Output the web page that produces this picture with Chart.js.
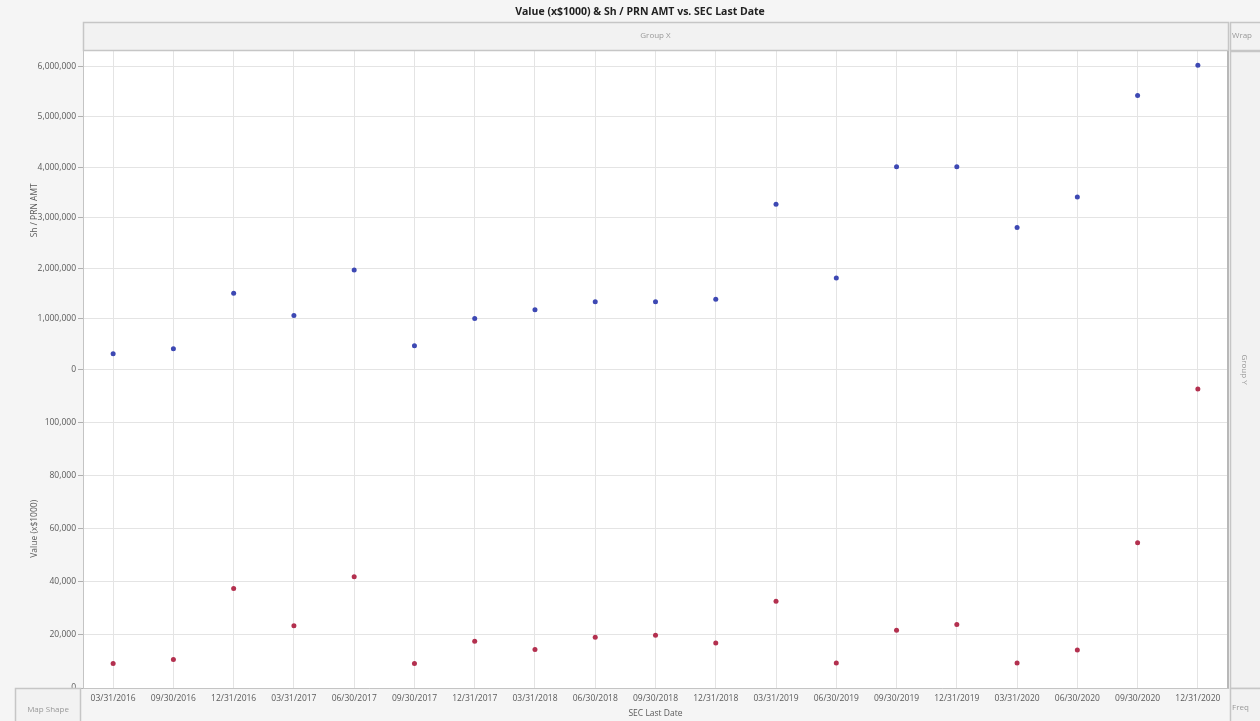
<!DOCTYPE html>
<html>
<head>
<meta charset="utf-8">
<script src="https://cdn.jsdelivr.net/npm/chart.js@4"></script>
<style>
  html, body { margin: 0; padding: 0; background: #f5f5f5; }
  #wrap { width: 1260px; height: 721px; position: relative; }
</style>
</head>
<body>
<div id="wrap"><canvas id="chart" width="1260" height="721"></canvas></div>
<script>
const dates = [
  "03/31/2016", "09/30/2016", "12/31/2016", "03/31/2017", "06/30/2017",
  "09/30/2017", "12/31/2017", "03/31/2018", "06/30/2018", "09/30/2018",
  "12/31/2018", "03/31/2019", "06/30/2019", "09/30/2019", "12/31/2019",
  "03/31/2020", "06/30/2020", "09/30/2020", "12/31/2020"
];
// Sh / PRN AMT (top panel)
const shares = [
  310000, 410000, 1510000, 1070000, 1970000,
  470000, 1010000, 1180000, 1340000, 1340000,
  1390000, 3270000, 1810000, 4010000, 4010000,
  2810000, 3410000, 5420000, 6020000
];
// Value (x$1000) (bottom panel)
const values = [
  9200, 10700, 37500, 23500, 41900,
  9200, 17600, 14500, 19100, 19900,
  17000, 32700, 9400, 21800, 23900,
  9400, 14300, 54700, 112700
];
const shareTicks = [0, 1000000, 2000000, 3000000, 4000000, 5000000, 6000000];
const valueTicks = [0, 20000, 40000, 60000, 80000, 100000, 120000];

const FONT = "'Open Sans', 'Noto Sans', sans-serif";
const tickFont = { family: FONT, size: 8.5 };
const tickColor = "#5a5a5a";
const gridColor = "#e4e4e4";

// draws the JMP style frame: title, drop zones, white plot background
const frame = {
  id: "frame",
  beforeDraw(chart) {
    const { ctx, chartArea: a } = chart;
    ctx.save();
    ctx.fillStyle = "#ffffff";
    ctx.fillRect(a.left, a.top, a.right - a.left, a.bottom - a.top);
    ctx.restore();
  },
  afterDraw(chart) {
    const { ctx, chartArea: a } = chart;
    ctx.save();

    ctx.fillStyle = "#222";
    ctx.font = "bold 10.5px " + FONT;
    ctx.textAlign = "center";
    ctx.textBaseline = "middle";
    ctx.fillText("Value (x$1000) & Sh / PRN AMT vs. SEC Last Date", 640, 12);

    function box(x, y, w, h) {
      ctx.fillStyle = "#f2f2f2";
      ctx.fillRect(x, y, w, h);
      ctx.strokeStyle = "#c6c6c6";
      ctx.lineWidth = 1.5;
      ctx.strokeRect(x + 0.5, y + 0.5, w, h);
    }
    box(a.left, 22, a.right - a.left, 28);
    box(1230, 22, 32, 28);
    box(1230, a.top, 32, a.bottom - a.top);
    box(15, a.bottom, 65, 40);
    box(1230, a.bottom, 32, 40);

    ctx.fillStyle = "#999";
    ctx.font = "8px " + FONT;
    ctx.textAlign = "center";
    ctx.fillText("Group X", (a.left + a.right) / 2, 36);
    ctx.fillText("Map Shape", 48, 710);
    ctx.textAlign = "left";
    ctx.fillText("Wrap", 1232, 36);
    ctx.fillText("Freq", 1232, 708);

    ctx.translate(1244, (a.top + a.bottom) / 2);
    ctx.rotate(Math.PI / 2);
    ctx.textAlign = "center";
    ctx.fillText("Group Y", 0, 0);
    ctx.restore();

    ctx.save();
    ctx.strokeStyle = "#b8b8b8";
    ctx.lineWidth = 2;
    ctx.beginPath();
    ctx.moveTo(a.right, a.top);
    ctx.lineTo(a.right, a.bottom);
    ctx.stroke();
    ctx.restore();
  }
};

const ctx = document.getElementById("chart");

new Chart(ctx, {
  type: "line",
  data: {
    labels: dates,
    datasets: [
      {
        label: "Value (x$1000)",
        data: values,
        yAxisID: "value",
        showLine: false,
        pointRadius: 2.5,
        pointBorderWidth: 0,
        pointBackgroundColor: "#b3304f",
        borderColor: "#b3304f"
      },
      {
        label: "Sh / PRN AMT",
        data: shares,
        yAxisID: "shares",
        showLine: false,
        pointRadius: 2.5,
        pointBorderWidth: 0,
        pointBackgroundColor: "#3d48b3",
        borderColor: "#3d48b3"
      }
    ]
  },
  options: {
    responsive: false,
    animation: false,
    layout: { padding: { top: 51, right: 32, left: 27, bottom: 0 } },
    plugins: {
      legend: { display: false },
      tooltip: { enabled: false }
    },
    scales: {
      x: {
        type: "category",
        offset: true,
        grid: { color: gridColor, drawTicks: false },
        border: { color: "#c4c4c4" },
        ticks: { font: tickFont, color: tickColor, padding: 5, maxRotation: 0, autoSkip: false },
        title: { display: true, text: "SEC Last Date", font: tickFont, color: tickColor, padding: { top: 0, bottom: 2 } },
        afterFit: (s) => { s.height = 33; }
      },
      value: {
        position: "left",
        stack: "panels",
        stackWeight: 1,
        min: 0,
        max: 120000,
        grid: { color: gridColor, tickLength: 5, tickColor: "#b0b0b0" },
        border: { color: "#c4c4c4" },
        afterBuildTicks: (s) => { s.ticks = valueTicks.map((v) => ({ value: v })); },
        ticks: {
          font: tickFont,
          color: tickColor,
          padding: 2,
          callback: (v) => (v === 120000 ? "" : v.toLocaleString("en-US"))
        },
        title: { display: true, text: "Value (x$1000)", font: tickFont, color: tickColor, padding: { top: 2, bottom: 0 } },
        afterFit: (s) => { s.width = 56; }
      },
      shares: {
        position: "left",
        stack: "panels",
        stackWeight: 1,
        min: 0,
        max: 6300000,
        grid: { color: gridColor, tickLength: 5, tickColor: "#b0b0b0" },
        border: { color: "#c4c4c4" },
        afterBuildTicks: (s) => { s.ticks = shareTicks.map((v) => ({ value: v })); },
        ticks: {
          font: tickFont,
          color: tickColor,
          padding: 2,
          callback: (v) => v.toLocaleString("en-US")
        },
        title: { display: true, text: "Sh / PRN AMT", font: tickFont, color: tickColor, padding: { top: 2, bottom: 0 } },
        afterFit: (s) => { s.width = 56; }
      }
    }
  },
  plugins: [frame]
});
</script>
</body>
</html>
